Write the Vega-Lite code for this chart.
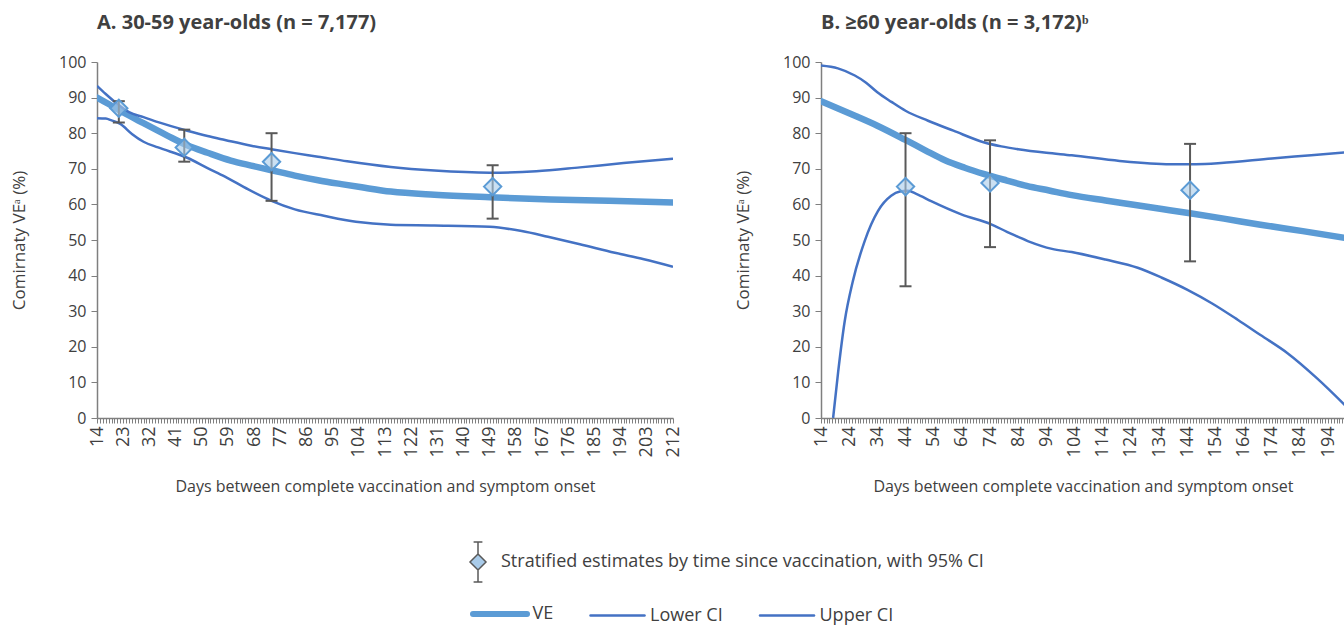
{
  "$schema": "https://vega.github.io/schema/vega-lite/v6.json",
  "background": "white",
  "padding": {"left": 10, "top": 13, "right": 0, "bottom": 0},
  "autosize": {"type": "pad"},
  "spacing": 52,
  "datasets": {
    "curves": [
      {"panel":"A","series":"VE","day":14,"value":90},{"panel":"A","series":"VE","day":18,"value":88.2},{"panel":"A","series":"VE","day":22,"value":86.3},{"panel":"A","series":"VE","day":30,"value":82.8},{"panel":"A","series":"VE","day":38,"value":79.4},{"panel":"A","series":"VE","day":45,"value":76.6},{"panel":"A","series":"VE","day":52,"value":74.5},{"panel":"A","series":"VE","day":60,"value":72.3},{"panel":"A","series":"VE","day":67,"value":70.9},{"panel":"A","series":"VE","day":74,"value":69.6},{"panel":"A","series":"VE","day":82,"value":68.1},{"panel":"A","series":"VE","day":90,"value":66.8},{"panel":"A","series":"VE","day":98,"value":65.7},{"panel":"A","series":"VE","day":105,"value":64.8},{"panel":"A","series":"VE","day":115,"value":63.6},{"panel":"A","series":"VE","day":130,"value":62.7},{"panel":"A","series":"VE","day":149,"value":62.0},{"panel":"A","series":"VE","day":170,"value":61.4},{"panel":"A","series":"VE","day":190,"value":61.0},{"panel":"A","series":"VE","day":212,"value":60.5},
      {"panel":"A","series":"Upper CI","day":14,"value":93.3},{"panel":"A","series":"Upper CI","day":17,"value":91},{"panel":"A","series":"Upper CI","day":21,"value":88.2},{"panel":"A","series":"Upper CI","day":25,"value":85.9},{"panel":"A","series":"Upper CI","day":30,"value":84.5},{"panel":"A","series":"Upper CI","day":35,"value":83.1},{"panel":"A","series":"Upper CI","day":45,"value":80.7},{"panel":"A","series":"Upper CI","day":52,"value":79.2},{"panel":"A","series":"Upper CI","day":58,"value":78.1},{"panel":"A","series":"Upper CI","day":67,"value":76.5},{"panel":"A","series":"Upper CI","day":74,"value":75.5},{"panel":"A","series":"Upper CI","day":82,"value":74.4},{"panel":"A","series":"Upper CI","day":90,"value":73.4},{"panel":"A","series":"Upper CI","day":100,"value":72.1},{"panel":"A","series":"Upper CI","day":115,"value":70.5},{"panel":"A","series":"Upper CI","day":130,"value":69.5},{"panel":"A","series":"Upper CI","day":149,"value":68.9},{"panel":"A","series":"Upper CI","day":165,"value":69.3},{"panel":"A","series":"Upper CI","day":180,"value":70.4},{"panel":"A","series":"Upper CI","day":195,"value":71.6},{"panel":"A","series":"Upper CI","day":212,"value":72.8},
      {"panel":"A","series":"Lower CI","day":14,"value":84.2},{"panel":"A","series":"Lower CI","day":17,"value":84.1},{"panel":"A","series":"Lower CI","day":19,"value":83.6},{"panel":"A","series":"Lower CI","day":22,"value":82.6},{"panel":"A","series":"Lower CI","day":26,"value":79.8},{"panel":"A","series":"Lower CI","day":30,"value":77.6},{"panel":"A","series":"Lower CI","day":35,"value":76.0},{"panel":"A","series":"Lower CI","day":45,"value":73.1},{"panel":"A","series":"Lower CI","day":52,"value":70.2},{"panel":"A","series":"Lower CI","day":58,"value":67.8},{"panel":"A","series":"Lower CI","day":66,"value":64.2},{"panel":"A","series":"Lower CI","day":74,"value":61.0},{"panel":"A","series":"Lower CI","day":82,"value":58.6},{"panel":"A","series":"Lower CI","day":92,"value":56.8},{"panel":"A","series":"Lower CI","day":103,"value":55.1},{"panel":"A","series":"Lower CI","day":115,"value":54.3},{"panel":"A","series":"Lower CI","day":130,"value":54.1},{"panel":"A","series":"Lower CI","day":149,"value":53.7},{"panel":"A","series":"Lower CI","day":160,"value":52.5},{"panel":"A","series":"Lower CI","day":169,"value":50.9},{"panel":"A","series":"Lower CI","day":180,"value":48.8},{"panel":"A","series":"Lower CI","day":192,"value":46.4},{"panel":"A","series":"Lower CI","day":202,"value":44.6},{"panel":"A","series":"Lower CI","day":212,"value":42.5},
      {"panel":"B","series":"VE","day":14,"value":89},{"panel":"B","series":"VE","day":24,"value":85.6},{"panel":"B","series":"VE","day":34,"value":82.1},{"panel":"B","series":"VE","day":44,"value":78.1},{"panel":"B","series":"VE","day":51,"value":75.2},{"panel":"B","series":"VE","day":58,"value":72.4},{"panel":"B","series":"VE","day":65,"value":70.3},{"panel":"B","series":"VE","day":72,"value":68.5},{"panel":"B","series":"VE","day":80,"value":66.7},{"panel":"B","series":"VE","day":87,"value":65.2},{"panel":"B","series":"VE","day":95,"value":63.9},{"panel":"B","series":"VE","day":103,"value":62.6},{"panel":"B","series":"VE","day":115,"value":61.1},{"panel":"B","series":"VE","day":125,"value":59.9},{"panel":"B","series":"VE","day":135,"value":58.7},{"panel":"B","series":"VE","day":145,"value":57.5},{"panel":"B","series":"VE","day":157,"value":56.0},{"panel":"B","series":"VE","day":170,"value":54.3},{"panel":"B","series":"VE","day":185,"value":52.5},{"panel":"B","series":"VE","day":200,"value":50.6},
      {"panel":"B","series":"Upper CI","day":14,"value":99},{"panel":"B","series":"Upper CI","day":20,"value":98.2},{"panel":"B","series":"Upper CI","day":26,"value":96.2},{"panel":"B","series":"Upper CI","day":30,"value":94.2},{"panel":"B","series":"Upper CI","day":34,"value":91.5},{"panel":"B","series":"Upper CI","day":39,"value":88.8},{"panel":"B","series":"Upper CI","day":44,"value":86.3},{"panel":"B","series":"Upper CI","day":52,"value":83.5},{"panel":"B","series":"Upper CI","day":61,"value":80.7},{"panel":"B","series":"Upper CI","day":72,"value":77.4},{"panel":"B","series":"Upper CI","day":78,"value":76.3},{"panel":"B","series":"Upper CI","day":84,"value":75.5},{"panel":"B","series":"Upper CI","day":94,"value":74.5},{"panel":"B","series":"Upper CI","day":103,"value":73.8},{"panel":"B","series":"Upper CI","day":120,"value":72.2},{"panel":"B","series":"Upper CI","day":138,"value":71.3},{"panel":"B","series":"Upper CI","day":147,"value":71.3},{"panel":"B","series":"Upper CI","day":156,"value":71.6},{"panel":"B","series":"Upper CI","day":174,"value":72.9},{"panel":"B","series":"Upper CI","day":188,"value":73.8},{"panel":"B","series":"Upper CI","day":200,"value":74.6},
      {"panel":"B","series":"Lower CI","day":18.3,"value":0},{"panel":"B","series":"Lower CI","day":20.1,"value":13},{"panel":"B","series":"Lower CI","day":22.4,"value":27.1},{"panel":"B","series":"Lower CI","day":25.3,"value":38.4},{"panel":"B","series":"Lower CI","day":29.5,"value":49.7},{"panel":"B","series":"Lower CI","day":34.2,"value":58.1},{"panel":"B","series":"Lower CI","day":38.9,"value":62.4},{"panel":"B","series":"Lower CI","day":42,"value":63.6},{"panel":"B","series":"Lower CI","day":44.8,"value":63.8},{"panel":"B","series":"Lower CI","day":48,"value":62.9},{"panel":"B","series":"Lower CI","day":53.1,"value":60.9},{"panel":"B","series":"Lower CI","day":63.8,"value":57.2},{"panel":"B","series":"Lower CI","day":74.4,"value":54.4},{"panel":"B","series":"Lower CI","day":80,"value":52.3},{"panel":"B","series":"Lower CI","day":87.4,"value":49.7},{"panel":"B","series":"Lower CI","day":96,"value":47.5},{"panel":"B","series":"Lower CI","day":103,"value":46.6},{"panel":"B","series":"Lower CI","day":115,"value":44.5},{"panel":"B","series":"Lower CI","day":126.4,"value":42.2},{"panel":"B","series":"Lower CI","day":135,"value":39.4},{"panel":"B","series":"Lower CI","day":144.1,"value":36},{"panel":"B","series":"Lower CI","day":153,"value":32.1},{"panel":"B","series":"Lower CI","day":161.9,"value":27.6},{"panel":"B","series":"Lower CI","day":170,"value":23.3},{"panel":"B","series":"Lower CI","day":179.6,"value":18.2},{"panel":"B","series":"Lower CI","day":190,"value":11.2},{"panel":"B","series":"Lower CI","day":200,"value":3.6}
    ],
    "est": [
      {"panel":"A","day":21.5,"est":87,"lo":83,"hi":89},
      {"panel":"A","day":44,"est":76,"lo":72,"hi":81},
      {"panel":"A","day":74,"est":72,"lo":61,"hi":80},
      {"panel":"A","day":150,"est":65,"lo":56,"hi":71},
      {"panel":"B","day":44,"est":65,"lo":37,"hi":80},
      {"panel":"B","day":74,"est":66,"lo":48,"hi":78},
      {"panel":"B","day":145,"est":64,"lo":44,"hi":77}
    ]
  },
  "hconcat": [
    {
      "width": 576, "height": 356,
      "title": {"text": "A. 30-59 year-olds (n = 7,177)"},
      "layer": [
        {
          "data": {"name": "curves"},
          "transform": [{"filter": "datum.panel === 'A' && datum.series === 'VE'"}],
          "mark": {"type": "line", "interpolate": "monotone", "strokeWidth": 6.5, "strokeCap": "round", "clip": true},
          "encoding": {
            "x": {"field": "day", "type": "quantitative", "scale": {"domain": [14, 212], "nice": false, "zero": false},
                  "axis": {"title": "Days between complete vaccination and symptom onset", "tickCount": 200, "labelExpr": "(datum.value - 14) % 9 === 0 ? datum.label : ''", "labelAngle": -90, "labelOverlap": false, "labelFlush": false, "labelBound": false}},
            "y": {"field": "value", "type": "quantitative", "scale": {"domain": [0, 100], "nice": false},
                  "axis": {"title": "Comirnaty VEᵃ (%)", "values": [0,10,20,30,40,50,60,70,80,90,100], "tickCount": 50, "labelOverlap": false}},
            "color": {"field": "series", "type": "nominal",
                      "scale": {"domain": ["VE", "Lower CI", "Upper CI"], "range": ["#5b9bd5", "#4472c4", "#4472c4"]},
                      "legend": {"orient": "none", "legendX": 394, "legendY": 543, "direction": "horizontal", "title": null,
                                 "symbolType": "stroke", "symbolSize": 2916, "symbolStrokeWidth": 2.5,
                                 "labelFontSize": 18, "labelColor": "#404040", "labelFont": "Open Sans", "labelOffset": 23.5, "columnPadding": 31.5, "labelLimit": 0,
                                 "encode": {"symbols": {"update": {"strokeWidth": {"signal": "datum.value === 'VE' ? 6 : 2.5"}, "strokeCap": {"value": "round"}}}}}}
          }
        },
        {
          "data": {"name": "curves"},
          "transform": [{"filter": "datum.panel === 'A' && datum.series !== 'VE'"}],
          "mark": {"type": "line", "interpolate": "monotone", "strokeWidth": 2.5, "clip": true},
          "encoding": {
            "x": {"field": "day", "type": "quantitative"},
            "y": {"field": "value", "type": "quantitative"},
            "color": {"field": "series", "type": "nominal"}
          }
        },
        {
          "data": {"name": "est"},
          "transform": [{"filter": "datum.panel === 'A'"}],
          "mark": {"type": "rule", "color": "#595959", "strokeWidth": 2},
          "encoding": {"x": {"field": "day", "type": "quantitative"}, "y": {"field": "lo", "type": "quantitative"}, "y2": {"field": "hi"}}
        },
        {
          "data": {"name": "est"},
          "transform": [{"filter": "datum.panel === 'A'"}],
          "mark": {"type": "tick", "orient": "horizontal", "size": 12, "thickness": 2, "color": "#595959", "opacity": 1},
          "encoding": {"x": {"field": "day", "type": "quantitative"}, "y": {"field": "lo", "type": "quantitative"}}
        },
        {
          "data": {"name": "est"},
          "transform": [{"filter": "datum.panel === 'A'"}],
          "mark": {"type": "tick", "orient": "horizontal", "size": 12, "thickness": 2, "color": "#595959", "opacity": 1},
          "encoding": {"x": {"field": "day", "type": "quantitative"}, "y": {"field": "hi", "type": "quantitative"}}
        },
        {
          "data": {"name": "est"},
          "transform": [{"filter": "datum.panel === 'A'"}],
          "mark": {"type": "point", "shape": "diamond", "filled": true, "size": 300, "stroke": "#5b9bd5", "strokeWidth": 2, "opacity": 1, "fillOpacity": 0.6},
          "encoding": {
            "x": {"field": "day", "type": "quantitative"},
            "y": {"field": "est", "type": "quantitative"},
            "fill": {"datum": "Stratified estimates by time since vaccination, with 95% CI", "type": "nominal",
                     "scale": {"range": ["#a9cbe9"]},
                     "legend": {"orient": "none", "legendX": 360, "legendY": 479, "title": null,
                                "symbolType": "M0,-1L0,-0.4M-0.22,-1L0.22,-1M0,0.4L0,1M-0.22,1L0.22,1M0,-0.4L0.4,0L0,0.4L-0.4,0Z",
                                "symbolSize": 1600, "symbolStrokeColor": "#595959", "labelFontSize": 18, "labelColor": "#404040", "labelFont": "Open Sans", "labelOffset": 2, "labelLimit": 0,
                                "encode": {"symbols": {"update": {"shape": {"value": "M0,-1L0,-0.4M-0.22,-1L0.22,-1M0,0.4L0,1M-0.22,1L0.22,1M0,-0.4L0.4,0L0,0.4L-0.4,0Z"}, "stroke": {"value": "#595959"}, "strokeWidth": {"value": 1.5}, "fill": {"value": "#cfe2f3"}, "opacity": {"value": 1}}}}}}
          }
        }
      ]
    },
    {
      "width": 524, "height": 356,
      "title": {"text": "B. ≥60 year-olds (n = 3,172)ᵇ"},
      "layer": [
        {
          "data": {"name": "curves"},
          "transform": [{"filter": "datum.panel === 'B' && datum.series === 'VE'"}],
          "mark": {"type": "line", "interpolate": "monotone", "strokeWidth": 6.5, "strokeCap": "round", "clip": true},
          "encoding": {
            "x": {"field": "day", "type": "quantitative", "scale": {"domain": [14, 200], "nice": false, "zero": false},
                  "axis": {"title": "Days between complete vaccination and symptom onset", "tickCount": 190, "labelExpr": "(datum.value - 14) % 10 === 0 ? datum.label : ''", "labelAngle": -90, "labelOverlap": false, "labelFlush": false, "labelBound": false}},
            "y": {"field": "value", "type": "quantitative", "scale": {"domain": [0, 100], "nice": false},
                  "axis": {"title": "Comirnaty VEᵃ (%)", "values": [0,10,20,30,40,50,60,70,80,90,100], "tickCount": 50, "labelOverlap": false}},
            "color": {"field": "series", "type": "nominal"}
          }
        },
        {
          "data": {"name": "curves"},
          "transform": [{"filter": "datum.panel === 'B' && datum.series !== 'VE'"}],
          "mark": {"type": "line", "interpolate": "monotone", "strokeWidth": 2.5, "clip": true},
          "encoding": {
            "x": {"field": "day", "type": "quantitative"},
            "y": {"field": "value", "type": "quantitative"},
            "color": {"field": "series", "type": "nominal"}
          }
        },
        {
          "data": {"name": "est"},
          "transform": [{"filter": "datum.panel === 'B'"}],
          "mark": {"type": "rule", "color": "#595959", "strokeWidth": 2, "clip": true},
          "encoding": {"x": {"field": "day", "type": "quantitative"}, "y": {"field": "lo", "type": "quantitative"}, "y2": {"field": "hi"}}
        },
        {
          "data": {"name": "est"},
          "transform": [{"filter": "datum.panel === 'B'"}],
          "mark": {"type": "tick", "orient": "horizontal", "size": 12, "thickness": 2, "color": "#595959", "opacity": 1, "clip": true},
          "encoding": {"x": {"field": "day", "type": "quantitative"}, "y": {"field": "lo", "type": "quantitative"}}
        },
        {
          "data": {"name": "est"},
          "transform": [{"filter": "datum.panel === 'B'"}],
          "mark": {"type": "tick", "orient": "horizontal", "size": 12, "thickness": 2, "color": "#595959", "opacity": 1, "clip": true},
          "encoding": {"x": {"field": "day", "type": "quantitative"}, "y": {"field": "hi", "type": "quantitative"}}
        },
        {
          "data": {"name": "est"},
          "transform": [{"filter": "datum.panel === 'B'"}],
          "mark": {"type": "point", "shape": "diamond", "filled": true, "size": 300, "stroke": "#5b9bd5", "strokeWidth": 2, "opacity": 1, "fillOpacity": 0.6, "clip": true},
          "encoding": {
            "x": {"field": "day", "type": "quantitative"},
            "y": {"field": "est", "type": "quantitative"},
            "fill": {"datum": "Stratified estimates by time since vaccination, with 95% CI", "type": "nominal"}
          }
        }
      ]
    }
  ],
  "config": {
    "font": "Open Sans",
    "view": {"stroke": null},
    "title": {"anchor": "start", "frame": "group", "fontSize": 20, "fontWeight": "bold", "color": "#404040", "font": "Open Sans", "offset": 21},
    "axis": {
      "grid": false,
      "labelOverlap": false,
      "domainColor": "#7f7f7f", "domainWidth": 1.5,
      "tickColor": "#7f7f7f", "tickWidth": 1,
      "labelColor": "#404040", "titleColor": "#404040",
      "labelFont": "Open Sans", "titleFont": "Open Sans",
      "titleFontWeight": "normal"
    },
    "axisX": {"labelFontSize": 18, "tickSize": 5, "labelPadding": 3, "titleFontSize": 16, "titlePadding": 22},
    "axisY": {"labelFontSize": 16, "tickSize": 6, "labelPadding": 5, "titleFontSize": 17, "titlePadding": 30, "labelOverlap": false}
  }
}
